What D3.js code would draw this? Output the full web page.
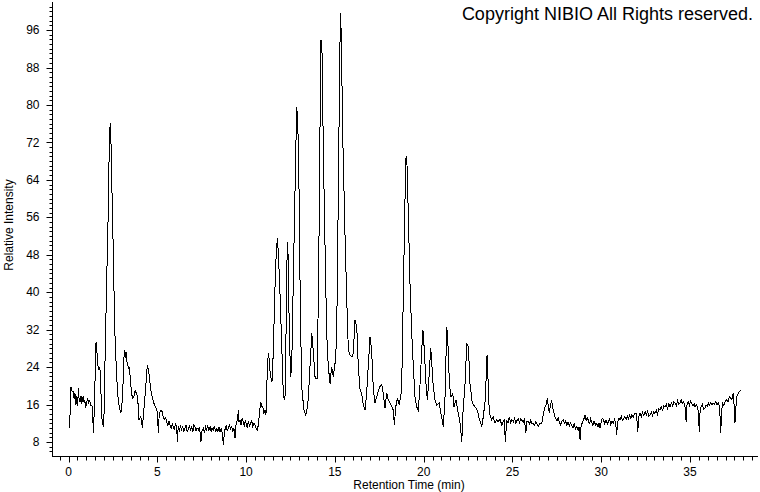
<!DOCTYPE html>
<html>
<head>
<meta charset="utf-8">
<script src="https://cdn.jsdelivr.net/npm/d3@7"></script>
<style>
  html, body { margin: 0; padding: 0; background: #fff; }
  svg { display: block; }
  text { font-family: "Liberation Sans", Arial, sans-serif; fill: #000; }
</style>
</head>
<body>
<svg id="chart" width="760" height="492"></svg>
<script>
// ---- Data ----
const retentionTime = [
0.05,0.10,0.14,0.20,0.27,0.32,0.36,0.42,0.47,0.52,0.55,0.60,0.65,0.70,0.75,0.80,0.83,0.88,0.92,0.97,
1.02,1.08,1.12,1.16,1.21,1.26,1.32,1.36,1.40,1.45,1.50,1.55,1.59,1.62,1.68,1.73,1.77,1.81,1.85,1.89,
1.96,2.00,2.06,2.15,2.24,2.30,2.35,2.39,2.45,2.52,2.60,2.71,2.80,2.86,2.94,3.00,3.05,3.10,3.14,3.19,
3.24,3.28,3.33,3.38,3.42,3.47,3.52,3.57,3.62,3.67,3.72,3.75,3.80,3.87,3.92,3.97,4.02,4.07,4.12,4.16,
4.20,4.25,4.30,4.35,4.40,4.44,4.48,4.53,4.58,4.63,4.70,4.78,4.85,4.93,5.00,5.06,5.11,5.18,5.25,5.30,
5.34,5.40,5.47,5.53,5.60,5.66,5.72,5.78,5.84,5.90,5.96,6.02,6.09,6.13,6.18,6.24,6.30,6.37,6.43,6.49,
6.56,6.62,6.68,6.75,6.81,6.87,6.94,7.00,7.06,7.12,7.18,7.24,7.31,7.37,7.42,7.46,7.52,7.59,7.65,7.72,
7.78,7.84,7.90,7.97,8.03,8.09,8.15,8.22,8.28,8.35,8.41,8.47,8.53,8.60,8.66,8.72,8.78,8.81,8.87,8.94,
9.00,9.06,9.12,9.19,9.25,9.31,9.38,9.43,9.47,9.53,9.56,9.60,9.66,9.72,9.78,9.84,9.90,9.95,10.00,10.06,
10.13,10.20,10.26,10.32,10.37,10.44,10.50,10.56,10.63,10.69,10.75,10.82,10.88,10.94,11.00,11.07,11.12,11.16,11.20,11.25,
11.31,11.35,11.39,11.44,11.48,11.55,11.63,11.70,11.76,11.82,11.91,12.01,12.10,12.19,12.25,12.32,12.38,12.43,12.51,12.57,
12.66,12.76,12.85,12.91,12.98,13.05,13.13,13.26,13.36,13.43,13.50,13.60,13.70,13.75,13.79,13.89,14.01,14.11,14.16,14.22,
14.28,14.35,14.45,14.54,14.63,14.73,14.82,14.91,15.01,15.10,15.19,15.25,15.31,15.36,15.44,15.57,15.67,15.76,15.85,15.97,
16.04,16.13,16.18,16.23,16.32,16.42,16.51,16.60,16.70,16.79,16.88,16.98,17.07,17.17,17.26,17.36,17.45,17.54,17.64,17.73,
17.82,17.92,18.01,18.11,18.20,18.29,18.35,18.43,18.52,18.63,18.76,18.85,18.95,19.01,19.06,19.14,19.23,19.33,19.42,19.51,
19.61,19.70,19.80,19.89,19.96,20.04,20.13,20.21,20.29,20.40,20.47,20.54,20.64,20.74,20.88,20.98,21.05,21.11,21.20,21.30,
21.36,21.45,21.54,21.64,21.71,21.82,21.92,22.05,22.15,22.20,22.33,22.43,22.52,22.61,22.74,22.89,23.02,23.13,23.27,23.36,
23.47,23.57,23.62,23.70,23.83,23.92,24.02,24.10,24.20,24.30,24.40,24.48,24.54,24.60,24.68,24.75,24.82,24.90,24.97,25.05,
25.12,25.19,25.26,25.33,25.40,25.46,25.52,25.60,25.68,25.75,25.82,25.89,25.96,26.03,26.10,26.18,26.25,26.32,26.39,26.46,
26.55,26.65,26.74,26.83,26.90,26.96,27.02,27.08,27.14,27.21,27.26,27.30,27.38,27.45,27.52,27.58,27.64,27.72,27.80,27.87,
27.95,28.00,28.06,28.13,28.20,28.27,28.34,28.41,28.48,28.55,28.62,28.70,28.76,28.81,28.87,28.96,29.03,29.09,29.15,29.21,
29.27,29.34,29.40,29.46,29.53,29.60,29.68,29.75,29.82,29.88,29.93,30.00,30.06,30.12,30.20,30.27,30.34,30.40,30.47,30.54,
30.61,30.68,30.75,30.81,30.87,30.93,31.00,31.06,31.13,31.20,31.27,31.34,31.40,31.47,31.53,31.60,31.66,31.72,31.80,31.88,
31.96,32.00,32.06,32.12,32.19,32.26,32.33,32.40,32.47,32.54,32.61,32.68,32.75,32.82,32.89,32.96,33.03,33.10,33.17,33.24,
33.31,33.38,33.45,33.52,33.60,33.67,33.74,33.81,33.88,33.95,34.02,34.09,34.16,34.23,34.30,34.37,34.44,34.50,34.57,34.63,
34.70,34.75,34.78,34.83,34.90,34.97,35.03,35.10,35.17,35.23,35.28,35.35,35.43,35.48,35.52,35.57,35.62,35.70,35.77,35.84,
35.90,35.97,36.03,36.10,36.17,36.24,36.31,36.38,36.45,36.52,36.59,36.65,36.70,36.73,36.78,36.84,36.91,36.98,37.07,37.14,
37.20,37.25,37.30,37.35,37.40,37.44,37.49,37.53,37.58,37.63,37.68,37.72,37.78,37.86
];
const relativeIntensity = [
10.9,15.0,19.8,18.9,18.7,17.2,18.5,16.0,17.8,15.6,19.5,17.0,16.6,17.9,16.2,17.4,17.7,16.3,16.9,15.2,
16.5,17.3,16.1,17.0,16.6,15.8,15.9,14.5,9.85,14.8,22.0,29.4,27.8,26.2,23.4,24.0,23.7,20.6,16.0,12.7,
11.3,14.0,26.2,42.6,57.6,72.5,76.1,72.5,61.1,49.0,32.6,21.9,17.0,15.5,14.1,15.5,18.4,23.5,27.6,26.0,
27.3,25.2,24.8,23.5,24.1,22.0,19.8,18.0,17.3,17.5,18.2,19.1,18.6,18.0,16.0,12.7,13.0,13.4,12.4,10.9,
13.0,15.2,17.5,19.8,22.5,24.4,23.8,22.7,21.0,19.1,17.8,16.6,15.8,15.2,14.5,9.85,14.1,14.6,14.8,13.9,
13.4,12.8,13.2,12.3,11.5,12.4,11.6,10.8,11.9,11.3,10.6,11.8,11.4,8.06,11.3,10.2,11.5,10.6,11.4,10.3,
10.9,11.6,10.2,10.6,11.5,10.4,11.3,10.1,11.7,11.3,10.4,11.0,10.6,11.2,9.6,8.06,10.5,10.9,10.0,11.2,
10.6,11.5,10.4,11.3,10.2,11.0,10.6,11.4,10.1,10.9,10.3,11.2,10.2,10.8,10.0,7.35,10.0,10.6,11.5,10.4,
10.9,11.8,10.7,11.3,10.2,11.0,8.8,11.5,12.0,13.2,14.8,12.3,12.7,11.6,13.0,12.3,11.3,12.6,12.0,11.2,
12.3,11.5,12.0,12.5,11.3,12.0,11.6,11.0,10.6,11.6,14.0,16.6,15.6,15.5,14.2,14.8,13.8,19.1,23.5,26.9,
25.5,23.0,21.9,21.0,21.2,30.0,41.2,48.5,51.5,48.3,39.8,28.4,17.7,17.0,31.2,50.8,46.9,31.9,21.9,24.1,
42.6,62.5,79.6,76.8,62.5,38.3,19.8,14.8,13.8,15.0,17.0,24.1,31.2,29.0,27.0,21.6,21.6,52.6,74.0,93.9,
91.0,70.4,49.0,31.2,24.1,20.5,24.1,21.9,24.8,29.8,59.7,81.1,99.6,95.3,74.0,52.6,38.3,27.6,26.6,26.2,
27.0,34.1,33.2,33.0,24.1,19.1,18.4,16.0,14.8,18.4,24.1,30.5,27.6,19.1,16.3,17.7,18.9,19.8,20.2,18.4,
15.2,18.4,17.0,16.3,15.6,14.8,11.6,15.5,17.3,15.9,19.1,38.3,59.7,69.0,67.5,56.1,41.9,31.2,24.1,17.7,
15.5,14.8,20.5,27.6,31.9,27.6,20.5,17.0,21.2,28.0,24.1,19.8,17.0,15.9,16.3,14.0,12.5,11.3,17.0,32.6,
29.8,20.5,17.7,18.4,15.5,17.0,14.8,12.0,8.06,13.4,20.5,29.1,28.4,20.5,16.3,15.5,14.8,13.0,11.3,13.4,
17.0,26.6,21.9,14.1,12.7,13.3,12.0,12.8,12.3,12.9,11.6,12.4,12.7,8.1,12.7,12.0,13.4,12.2,12.8,12.3,
13.1,12.0,12.6,13.0,12.1,12.9,12.7,12.2,12.8,9.85,12.4,12.3,11.8,12.6,11.9,12.0,11.5,12.4,11.7,11.3,
12.0,12.0,13.8,15.5,16.0,17.3,15.6,14.1,15.8,17.0,15.5,14.8,13.5,13.0,12.5,13.2,12.3,11.6,12.6,12.7,
11.9,12.4,11.6,12.2,11.4,12.0,11.6,11.0,11.9,10.8,11.3,10.5,11.2,8.4,11.5,12.3,13.0,13.8,12.6,13.2,
12.7,11.8,12.9,12.3,11.5,12.5,11.6,12.0,11.2,12.0,10.9,12.3,13.0,12.8,11.9,12.7,11.8,12.3,12.9,11.7,
12.4,12.0,12.8,12.2,9.5,12.4,13.0,12.7,13.5,12.6,13.1,13.4,12.8,13.6,13.0,13.8,12.9,13.8,13.2,14.0,
14.1,13.4,10.2,13.5,14.1,13.4,14.3,13.6,14.5,13.8,14.6,13.5,13.8,14.4,13.7,14.5,14.1,14.8,14.0,15.0,
14.8,15.6,14.6,15.8,15.5,16.0,15.1,16.2,15.5,16.4,15.7,16.6,16.3,15.8,16.8,16.0,16.3,17.0,16.2,16.6,
16.0,14.5,12.3,15.8,16.6,15.9,16.8,16.3,15.6,16.2,15.5,16.0,15.4,14.0,10.2,14.6,15.5,16.0,15.0,15.2,
15.9,15.6,16.3,15.8,16.4,15.9,16.3,16.0,16.6,16.0,16.3,15.8,13.0,9.85,14.5,16.3,15.8,16.7,17.0,16.5,
17.4,17.7,17.2,17.0,17.8,18.4,15.5,12.0,15.0,17.7,18.0,18.4,18.8,19.1
];
const xMajorTicks = [0, 5, 10, 15, 20, 25, 30, 35];
const yMajorTicks = [8, 16, 24, 32, 40, 48, 56, 64, 72, 80, 88, 96];
const xTitle = "Retention Time (min)";
const yTitle = "Relative Intensity";
const copyright = "Copyright NIBIO All Rights reserved.";

// ---- Layout ----
const svg = d3.select("#chart");
const x = d3.scaleLinear().domain([-0.93, 38.83]).range([52, 758]);
const y = d3.scaleLinear().domain([5, 102]).range([456, 2]);

const data = retentionTime.map((t, i) => [t, relativeIntensity[i]]);

// Trace
svg.append("path")
  .datum(data)
  .attr("fill", "none")
  .attr("stroke", "#000")
  .attr("stroke-width", 1)
  .attr("shape-rendering", "crispEdges")
  .attr("d", d3.line().x(d => x(d[0])).y(d => y(d[1])));

// X axis
const xMinor = d3.range(-0.5, 38.8, 0.5);
const gx = svg.append("g").attr("transform", "translate(0,456.5)");
gx.append("line").attr("x1", 52).attr("x2", 758).attr("stroke", "#000");
gx.selectAll("line.minor").data(xMinor).join("line")
  .attr("class", "minor")
  .attr("x1", d => Math.round(x(d)) + 0.5).attr("x2", d => Math.round(x(d)) + 0.5)
  .attr("y1", 0).attr("y2", d => xMajorTicks.includes(d) ? 6 : 4)
  .attr("stroke", "#000");
gx.selectAll("text").data(xMajorTicks).join("text")
  .attr("x", d => x(d)).attr("y", 19)
  .attr("text-anchor", "middle")
  .attr("font-size", 12)
  .text(d => d);

// Y axis
const yMinor = d3.range(6, 102, 1);
const gy = svg.append("g").attr("transform", "translate(52.5,0)");
gy.append("line").attr("y1", 2).attr("y2", 456).attr("stroke", "#000");
gy.selectAll("line.minor").data(yMinor).join("line")
  .attr("class", "minor")
  .attr("y1", d => Math.round(y(d)) + 0.5).attr("y2", d => Math.round(y(d)) + 0.5)
  .attr("x1", 0).attr("x2", d => yMajorTicks.includes(d) ? -6 : -3)
  .attr("stroke", "#000");
gy.selectAll("text").data(yMajorTicks).join("text")
  .attr("x", -13).attr("y", d => y(d))
  .attr("dy", "0.35em")
  .attr("text-anchor", "end")
  .attr("font-size", 12)
  .text(d => d);

// Titles
svg.append("text")
  .attr("x", 409).attr("y", 489)
  .attr("text-anchor", "middle")
  .attr("font-size", 12)
  .text(xTitle);
svg.append("text")
  .attr("transform", "translate(13,225) rotate(-90)")
  .attr("text-anchor", "middle")
  .attr("font-size", 12)
  .text(yTitle);
svg.append("text")
  .attr("x", 753).attr("y", 20)
  .attr("text-anchor", "end")
  .attr("font-size", 18)
  .text(copyright);
</script>
</body>
</html>
